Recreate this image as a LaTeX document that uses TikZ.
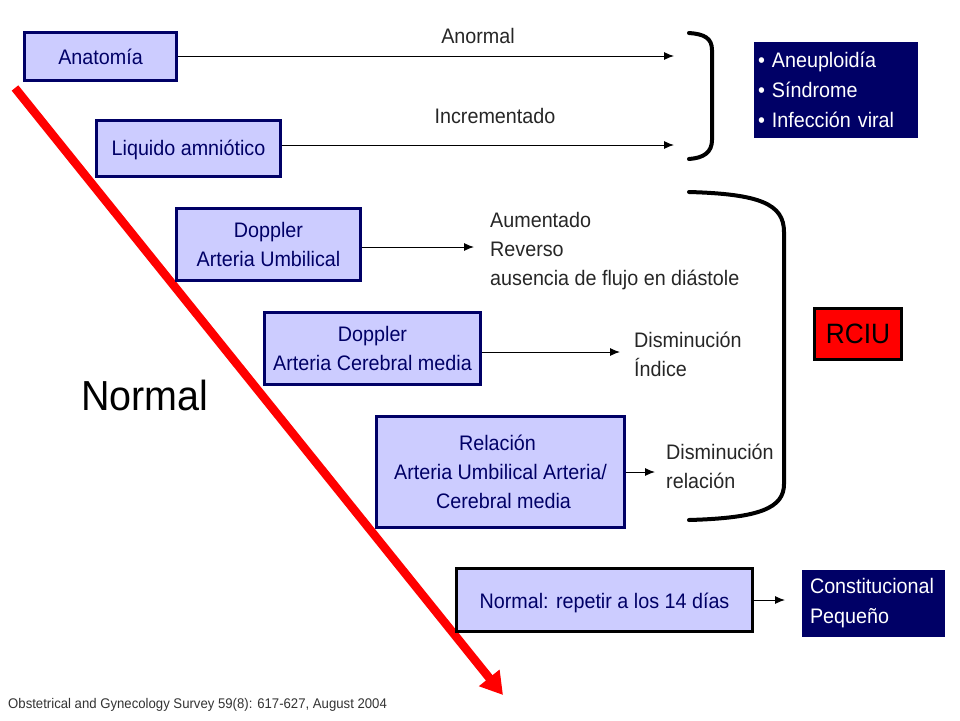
\documentclass[tikz,border=0pt]{standalone}
\usepackage{fontspec}
\setmainfont[FakeStretch=0.94]{Liberation Sans}
\usetikzlibrary{arrows.meta}
\definecolor{boxfill}{HTML}{CCCCFF}
\definecolor{boxnavy}{HTML}{000066}
\tikzset{
  flowbox/.style={draw=boxnavy, line width=3pt, fill=boxfill, text=boxnavy, align=center, inner sep=0pt, font=\fontsize{21}{29}\selectfont},
  navybox/.style={fill=boxnavy, text=white, align=left, inner sep=0pt, font=\fontsize{21}{30}\selectfont},
  label/.style={align=left, inner sep=0pt, text=black!85, font=\fontsize{21}{29}\selectfont},
  thin arrow/.style={-{Latex[length=10pt,width=8pt]}, line width=1pt},
  bracket/.style={line width=4pt, line cap=round}
}
\begin{document}
\begin{tikzpicture}[x=1pt,y=-1pt]
	\useasboundingbox (0,0) rectangle (960,720);
	%%%%% diagonal %%%%%
	\coordinate (normalstart) at (15,88);
	\coordinate (normalend) at (503,695);
	\draw[red, line width=8.5pt, -{Triangle[length=22pt,width=25pt]}] (normalstart) -- (normalend);

	%%%%% boxes %%%%%
	\node[flowbox, minimum width=152pt, minimum height=48pt] (anatomia) at (100.5,56) {\raisebox{-1pt}[\height][\depth]{Anatomía}};
	\node[flowbox, minimum width=184pt, minimum height=56pt] (liquido) at (188.5,148) {\raisebox{-2pt}[\height][\depth]{Liquido amniótico}};
	\node[flowbox, minimum width=184pt, minimum height=72pt] (umbilical) at (268.5,244.5) {Doppler\\ Arteria Umbilical};
	\node[flowbox, minimum width=216pt, minimum height=72pt] (cerebral) at (372.5,348.5) {Doppler\\Arteria Cerebral media};
	\node[flowbox, minimum width=248pt, minimum height=111pt] (relacion) at (500.5,472) {Relación\hspace*{6pt}\\Arteria Umbilical Arteria/\\\hspace*{6pt}Cerebral media};
	\node[flowbox, draw=black, minimum width=296pt, minimum height=63pt] (repetir) at (604.5,600) {\raisebox{-3pt}[\height][\depth]{Normal: repetir a los 14 días}};

	\node[navybox, minimum width=164pt, minimum height=96pt, text width=156pt] (causas) at (836,90) {• Aneuploidía\\• Síndrome\\• Infección viral};
	\node[navybox, minimum width=143pt, minimum height=67pt, text width=127pt] (pequeno) at (873.5,603.5) {Constitucional\\Pequeño};
	\node[draw=black, line width=3pt, fill=red, text=black, inner sep=0pt, minimum width=87pt, minimum height=51pt, font=\fontsize{28}{32}\selectfont] (rciu) at (858,334) {RCIU};

	%%%%% labels %%%%%
	\node[label, anchor=center] (anormal) at (478,36) {Anormal};
	\node[label, anchor=center] (incrementado) at (495,116) {Incrementado};
	\node[label, anchor=west] (aumentado) at (490,251) {Aumentado\\Reverso\\ausencia de flujo en diástole};
	\node[label, anchor=west] (disminucion) at (634,354.5) {Disminución\\Índice};
	\node[label, anchor=west] (relbaja) at (666,466.5) {Disminución\\relación};
	\node[inner sep=0pt, text=black, font=\fontsize{42}{48}\selectfont] (normal) at (145,395) {Normal};
	\node[anchor=west, inner sep=0pt, text=black!80, font=\fontsize{14}{16}\selectfont] (fuente) at (8,705) {Obstetrical and Gynecology Survey 59(8): 617-627, August 2004};

	%%%%% arrows %%%%%
	\coordinate (anormalend) at (674,56);
	\coordinate (incrementadoend) at (674,145);
	\coordinate (umbilicalend) at (474,247);
	\coordinate (cerebralend) at (620,352);
	\coordinate (relacionend) at (655,472);
	\coordinate (repetirend) at (785,600);
	\draw[thin arrow] (anatomia.east) -- (anormalend);
	\draw[thin arrow] (liquido.east |- incrementadoend) -- (incrementadoend);
	\draw[thin arrow] (umbilical.east |- umbilicalend) -- (umbilicalend);
	\draw[thin arrow] (cerebral.east |- cerebralend) -- (cerebralend);
	\draw[thin arrow] (relacion.east) -- (relacionend);
	\draw[thin arrow] (repetir.east) -- (repetirend);

	%%%%% brackets %%%%%
	\draw[bracket] (689,33) .. controls (704,34) and (712,38) .. (712,50) -- (712,140) .. controls (712,152) and (704,158) .. (689,159);
	\draw[bracket] (689,192) .. controls (760,194) and (784,204) .. (784,232) -- (784,484) .. controls (784,508) and (760,518) .. (689,520);
\end{tikzpicture}
\end{document}
